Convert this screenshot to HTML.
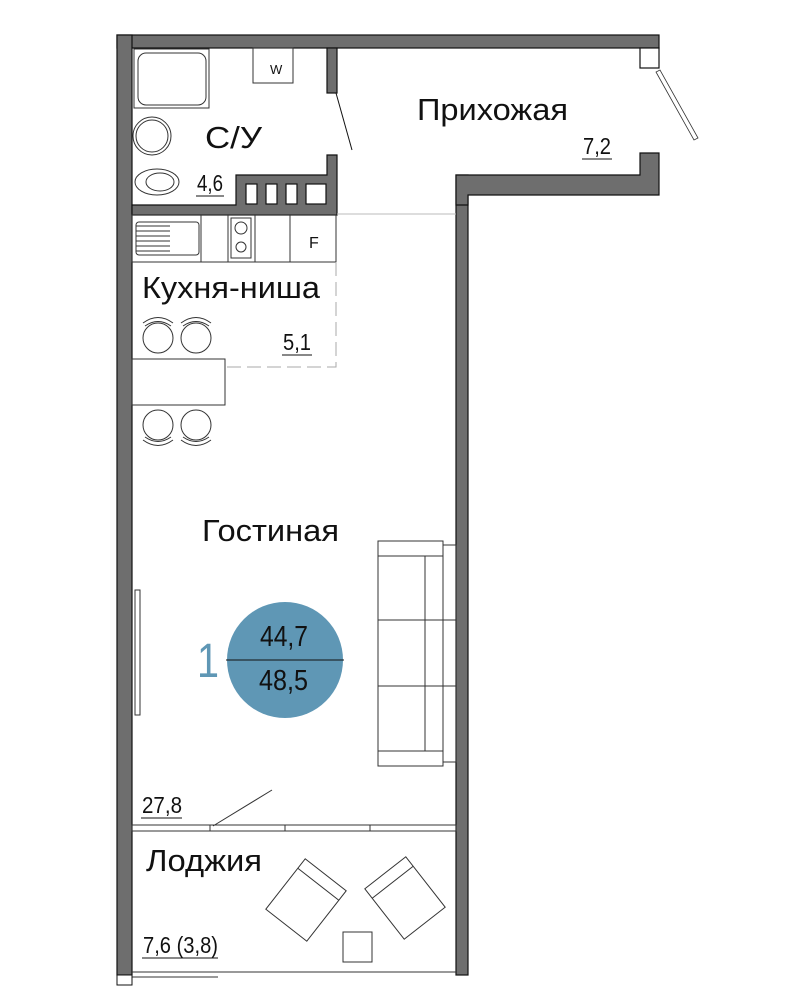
<!DOCTYPE html>
<html><head><meta charset="utf-8"><style>
body{margin:0;background:#fff}
svg{display:block}
text{font-family:"Liberation Sans",sans-serif;fill:#111}
</style></head><body>
<svg width="800" height="1000" viewBox="0 0 800 1000" xmlns="http://www.w3.org/2000/svg">
<g fill="#6e6e6e" stroke="#111" stroke-width="1.2">
<rect x="117" y="35" width="542" height="13"/>
<rect x="117" y="35" width="15" height="940"/>
<rect x="456" y="175" width="12" height="800"/>
<path d="M456 175 H640 V153 H659 V195 H468 V205 H456 Z"/>
<rect x="327" y="48" width="10" height="45"/>
<path d="M132 205 H236 V175 H327 V155 H337 V215 H132 Z"/>
</g>
<rect x="640" y="48" width="19" height="20" fill="#fff" stroke="#111" stroke-width="1.2"/>
<g fill="#fff" stroke="#111" stroke-width="1.2">
<rect x="246" y="184" width="11" height="20"/><rect x="266" y="184" width="11" height="20"/><rect x="286" y="184" width="11" height="20"/><rect x="306" y="184" width="20" height="20"/>
</g>
<line x1="336" y1="93" x2="352" y2="150" stroke="#111" stroke-width="1"/>
<path d="M656 72 L694 140 L698 138 L660 70 Z" fill="#fff" stroke="#333" stroke-width="0.8"/>
<line x1="337" y1="214" x2="456" y2="214" stroke="#bbb" stroke-width="1"/>
<g fill="none" stroke="#333" stroke-width="1">
<rect x="134" y="49" width="75" height="59"/>
<rect x="138" y="53" width="68" height="52" rx="8"/>
<rect x="253" y="48" width="40" height="35"/>
<circle cx="152" cy="136" r="19"/><circle cx="152" cy="136" r="16"/>
<ellipse cx="157" cy="182" rx="22" ry="13"/><ellipse cx="160" cy="182" rx="14" ry="9"/>
<rect x="132" y="215" width="204" height="47"/>
<line x1="201" y1="215" x2="201" y2="262"/><line x1="228" y1="215" x2="228" y2="262"/><line x1="255" y1="215" x2="255" y2="262"/><line x1="290" y1="215" x2="290" y2="262"/>
<rect x="136" y="222" width="63" height="33" rx="3"/>
<path d="M136 226 H170 M136 231 H170 M136 236 H170 M136 241 H170 M136 246 H170 M136 251 H170"/>
<rect x="231" y="218" width="20" height="40"/><circle cx="241" cy="228" r="6"/><circle cx="241" cy="247" r="5"/>
<path d="M336 262 V367 H225" stroke="#aaa" stroke-dasharray="14,6"/>
<rect x="132" y="359" width="93" height="46"/>
<circle cx="158" cy="338" r="15"/><circle cx="196" cy="338" r="15"/>
<path d="M143 323 Q158 312 173 323 M145 326 Q158 317 171 326 M181 323 Q196 312 211 323 M183 326 Q196 317 209 326"/>
<circle cx="158" cy="425" r="15"/><circle cx="196" cy="425" r="15"/>
<path d="M143 440 Q158 451 173 440 M145 437 Q158 446 171 437 M181 440 Q196 451 211 440 M183 437 Q196 446 209 437"/>
<rect x="378" y="541" width="65" height="225"/>
<rect x="378" y="556" width="65" height="195"/>
<rect x="425" y="556" width="18" height="195"/>
<rect x="443" y="545" width="13" height="217"/>
<line x1="378" y1="620" x2="456" y2="620"/><line x1="378" y1="686" x2="456" y2="686"/>
<rect x="135" y="590" width="5" height="125"/>
<rect x="132" y="825" width="324" height="6"/>
<line x1="210" y1="825" x2="210" y2="831"/><line x1="285" y1="825" x2="285" y2="831"/><line x1="370" y1="825" x2="370" y2="831"/>
<line x1="213" y1="826" x2="272" y2="790"/>
<line x1="132" y1="972" x2="456" y2="972"/><line x1="132" y1="977" x2="218" y2="977"/>
<rect x="343" y="932" width="29" height="30"/>
<g transform="translate(306,900) rotate(38)"><rect x="-26" y="-32" width="52" height="64"/><line x1="-26" y1="-20" x2="26" y2="-20"/></g>
<g transform="translate(405,898) rotate(-38)"><rect x="-26" y="-32" width="52" height="64"/><line x1="-26" y1="-20" x2="26" y2="-20"/></g>
</g>
<rect x="117" y="975" width="15" height="10" fill="#fff" stroke="#111"/>
<circle cx="285" cy="660" r="58" fill="#5f97b5"/>
<line x1="226" y1="660" x2="344" y2="660" stroke="#111" stroke-width="1"/>
<text x="197" y="677" font-size="48" textLength="22" lengthAdjust="spacingAndGlyphs" style="fill:#5f97b5">1</text>
<text x="260" y="646" font-size="29" textLength="48" lengthAdjust="spacingAndGlyphs">44,7</text>
<text x="259" y="690" font-size="29" textLength="49" lengthAdjust="spacingAndGlyphs">48,5</text>
<g font-size="31">
<text x="417" y="120" textLength="151" lengthAdjust="spacingAndGlyphs">Прихожая</text>
<text x="205" y="148" textLength="57" lengthAdjust="spacingAndGlyphs">С/У</text>
<text x="142" y="298" textLength="178" lengthAdjust="spacingAndGlyphs">Кухня-ниша</text>
<text x="202" y="541" textLength="137" lengthAdjust="spacingAndGlyphs">Гостиная</text>
<text x="146" y="871" textLength="116" lengthAdjust="spacingAndGlyphs">Лоджия</text>
</g>
<text x="270" y="74" font-size="13">W</text>
<text x="309" y="248" font-size="16">F</text>
<g font-size="23">
<text x="197" y="191" textLength="26" lengthAdjust="spacingAndGlyphs">4,6</text><line x1="196" y1="196" x2="224" y2="196" stroke="#111"/>
<text x="283" y="350" textLength="28" lengthAdjust="spacingAndGlyphs">5,1</text><line x1="282" y1="355" x2="312" y2="355" stroke="#111"/>
<text x="583" y="154" textLength="28" lengthAdjust="spacingAndGlyphs">7,2</text><line x1="582" y1="159" x2="612" y2="159" stroke="#111"/>
<text x="142" y="813" textLength="40" lengthAdjust="spacingAndGlyphs">27,8</text><line x1="141" y1="818" x2="182" y2="818" stroke="#111"/>
<text x="143" y="953" textLength="75" lengthAdjust="spacingAndGlyphs">7,6 (3,8)</text><line x1="142" y1="958" x2="218" y2="958" stroke="#111"/>
</g>
</svg>
</body></html>
